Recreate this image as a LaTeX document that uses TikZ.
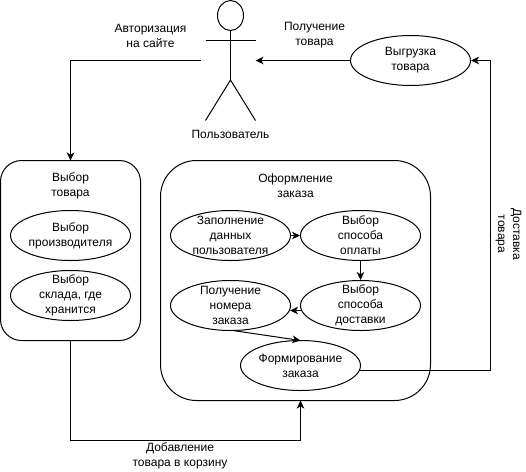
\documentclass[tikz,border=0pt]{standalone}
\usepackage{fontspec}
\setmainfont{Liberation Sans}
\usetikzlibrary{shapes.geometric,arrows.meta}
\tikzset{
  line/.style={line width=1pt,draw=black},
  conn/.style={line,-{Stealth[length=8pt,width=7.5pt,inset=2.2pt]}},
  txt/.style={font=\fontsize{12pt}{15pt}\selectfont,align=center,inner sep=0pt,text=black},
  oval/.style={ellipse,line,minimum width=120pt,minimum height=50pt,inner sep=0pt},
  ovaltext/.style={txt},
  bigbox/.style={line,rectangle,inner sep=0pt}
}
\begin{document}
\begin{tikzpicture}[x=1pt,y=-1pt]
\useasboundingbox (0,0) rectangle (526,471);
% actor
\node[ellipse,line,minimum width=26pt,minimum height=30pt,inner sep=0pt] (head) at (230.5,15.5) {};
\coordinate (hip) at (230.5,80);
\coordinate (armL) at (205.5,40.5);
\coordinate (armR) at (255.5,40.5);
\coordinate (legL) at (205.5,120.5);
\coordinate (legR) at (255.5,120.5);
\coordinate (neck) at (230.5,40.5);
\draw[line] (head.south) -- (hip);
\draw[line] (armL) -- (armR);
\draw[line] (legL) -- (hip) -- (legR);
\node[txt] (actorname) at (230.5,134) {Пользователь};
\coordinate (actorW) at (200.5,60.5);
\coordinate (actorE) at (255.5,60.5);
% containers
\draw[bigbox,rounded corners=21pt] (0.5,160.5) rectangle (140.5,340.5);
\coordinate (leftTop) at (70.5,160.5);
\coordinate (leftBottom) at (70.5,340.5);
\draw[bigbox,rounded corners=36pt] (160.5,160.5) rectangle (430.5,400.5);
\coordinate (rightBottom) at (300.5,400.5);
\node[txt] (t1) at (70.5,185.5) {Выбор\\товара};
\node[txt] (t2) at (295.5,185.5) {Оформление\\заказа};
% ovals
\node[oval,label={[ovaltext]center:Выбор\\производителя}] (vp) at (70.5,235.5) {};
\node[oval,label={[ovaltext]center:Выбор\\склада, где\\хранится}] (vs) at (70.5,295.5) {};
\node[oval,label={[ovaltext]center:Заполнение\\данных\\пользователя}] (zd) at (230.5,235.5) {};
\node[oval,label={[ovaltext]center:Выбор\\способа\\оплаты}] (so) at (360.5,235.5) {};
\node[oval,label={[ovaltext]center:Получение\\номера\\заказа}] (pn) at (230.5,305.5) {};
\node[oval,label={[ovaltext]center:Выбор\\способа\\доставки}] (sd) at (360.5,305.5) {};
\node[oval,label={[ovaltext]center:Формирование\\заказа}] (fz) at (300.5,365.5) {};
\node[oval,label={[ovaltext]center:Выгрузка\\товара}] (vt) at (410.5,60.5) {};
% connectors
\draw[conn] (actorW) -- (leftTop |- actorW) -- (leftTop);
\draw[conn] (vt.west) -- (actorE);
\coordinate (c1) at (490.5,370.5);
\coordinate (c1s) at (359.8,370.5);
\draw[conn] (c1s) -- (c1) -- (c1 |- vt.east) -- (vt.east);
\draw[conn] (leftBottom) -- (70.5,440.5) -- (300.5,440.5) -- (rightBottom);
\draw[conn] (zd.east) -- (so.west);
\draw[conn] (so.south) -- (sd.north);
\coordinate (sdw) at (301.5,310.5);
\coordinate (pne) at (290,310.5);
\draw[conn] (sdw) -- (pne);
\coordinate (pns) at (233,330.5);
\coordinate (fzn) at (300.5,340.5);
\draw[conn] (pns) -- (fzn);
% labels
\node[txt] (l1) at (150.5,35.5) {Авторизация\\на сайте};
\node[txt] (l2) at (314.5,35.5) {Получение\\товара};
\node[txt,rotate=-90] (l3) at (508.5,234) {Доставка\\товара};
\node[txt] (l4) at (180,455.5) {Добавление\\товара в корзину};
\end{tikzpicture}
\end{document}
